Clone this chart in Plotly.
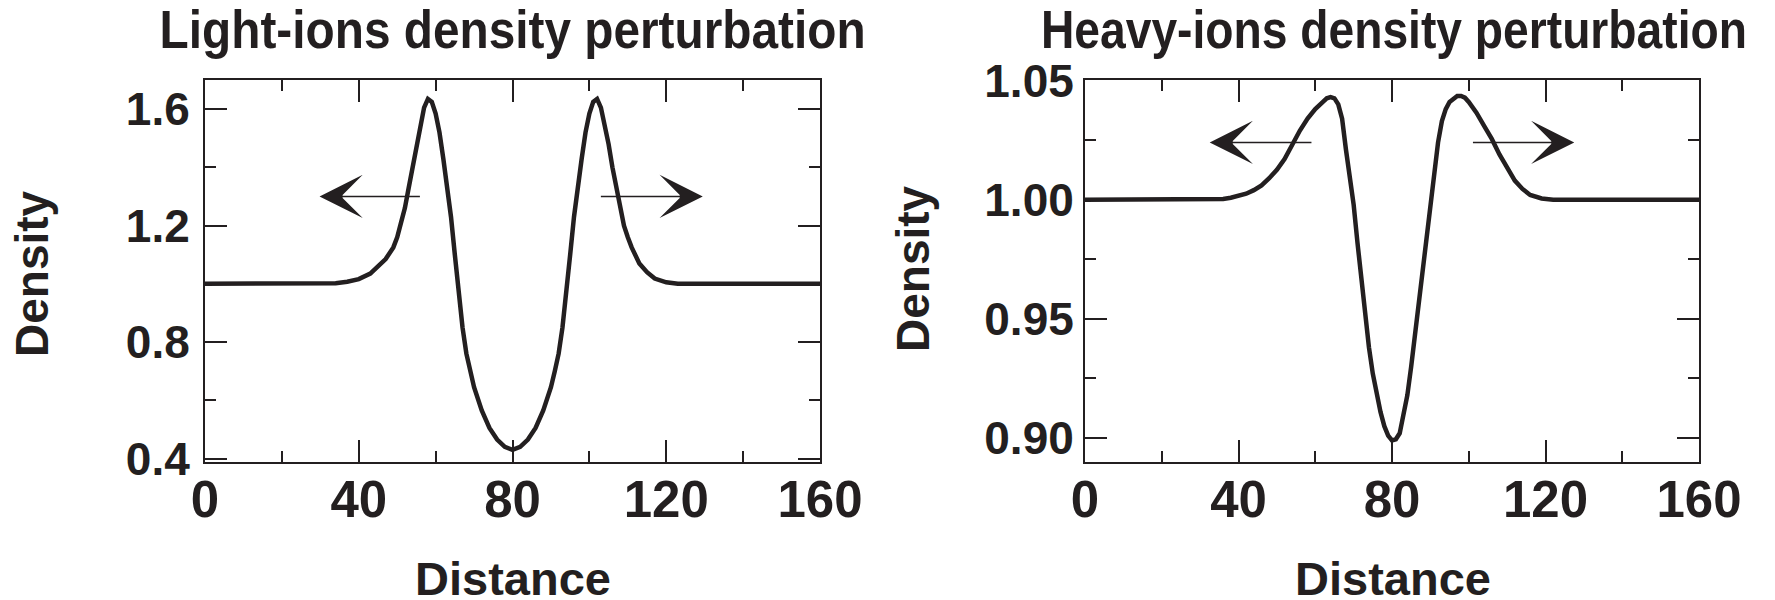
import plotly.graph_objects as go

# ---------------- data ----------------
light_x = [0, 10, 20, 28, 31, 34, 37, 40, 43, 45, 47, 49, 50, 51, 52, 53, 54, 55, 56, 57, 58, 59, 60,
           61, 62, 63, 64, 65, 66, 67, 68, 69, 70, 72, 74, 76, 78, 80, 82, 84, 86, 88, 90, 91, 92,
           93, 94, 95, 96, 97, 98, 99, 100, 101, 102, 103, 104, 105, 106, 107, 108, 109, 110, 111,
           113, 115, 117, 120, 123, 126, 130, 140, 150, 160]
light_y = [1.0, 1.0, 1.0, 1.0, 1.0, 1.002, 1.007, 1.016, 1.035, 1.058, 1.085, 1.125, 1.16, 1.21, 1.26,
           1.33, 1.40, 1.48, 1.55, 1.605, 1.635, 1.625, 1.585, 1.52, 1.43, 1.34, 1.23, 1.10, 0.96,
           0.85, 0.76, 0.70, 0.645, 0.565, 0.505, 0.465, 0.44, 0.43, 0.44, 0.465, 0.505, 0.565,
           0.645, 0.70, 0.76, 0.85, 0.96, 1.10, 1.23, 1.34, 1.43, 1.52, 1.585, 1.625, 1.635, 1.605,
           1.55, 1.48, 1.40, 1.33, 1.26, 1.20, 1.16, 1.125, 1.07, 1.04, 1.018, 1.005, 1.0, 1.0, 1.0,
           1.0, 1.0, 1.0]

heavy_x = [0, 10, 20, 30, 33, 36, 38, 40, 42, 44, 46, 48, 50, 52, 54, 56, 58, 60, 62, 63, 64, 65,
           66, 67, 68, 69, 70, 71, 72, 73, 74, 75, 76, 77, 78, 79, 80, 81, 82, 83, 84, 85, 86, 87,
           88, 89, 90, 91, 92, 93, 94, 95, 96, 97, 98, 99, 100, 101, 102, 104, 106, 108, 110, 112,
           114, 116, 119, 122, 130, 140, 150, 160]
heavy_y = [1.0, 1.0, 1.0, 1.0, 1.0, 1.0003, 1.0008, 1.0015, 1.0025, 1.004, 1.006, 1.009, 1.0125,
           1.017, 1.023, 1.029, 1.034, 1.038, 1.041, 1.0425, 1.043, 1.0425, 1.040, 1.034, 1.021,
           1.010, 0.998, 0.982, 0.966, 0.951, 0.938, 0.927, 0.918, 0.911, 0.905, 0.901, 0.899,
           0.8995, 0.902, 0.909, 0.918, 0.930, 0.944, 0.958, 0.971, 0.984, 0.998, 1.012, 1.024,
           1.033, 1.038, 1.041, 1.0425, 1.0435, 1.0435, 1.0428, 1.041, 1.039, 1.0365, 1.031, 1.0255,
           1.019, 1.013, 1.008, 1.0045, 1.002, 1.0005, 1.0, 1.0, 1.0, 1.0, 1.0]

titles = ["Light-ions density perturbation", "Heavy-ions density perturbation"]
x_title = "Distance"
y_title = "Density"

# arrows: (tail x, tip x, y) in data units
light_arrows = [(56.3, 29.8, 1.30), (102.6, 129.5, 1.30)]
heavy_arrows = [(59.4, 32.5, 1.024), (100.7, 127.5, 1.024)]

# ---------------- styling ----------------
W, H = 1775, 600
INK = "#231f20"
FONT = "Liberation Sans, Arial, Helvetica, sans-serif"


def px_x(p):
    return p / W


def px_y(p):
    return 1 - p / H


fig = go.Figure()
fig.add_trace(go.Scatter(x=light_x, y=light_y, mode="lines", line=dict(color=INK, width=4.5),
                         xaxis="x", yaxis="y", showlegend=False, hoverinfo="skip"))
fig.add_trace(go.Scatter(x=heavy_x, y=heavy_y, mode="lines", line=dict(color=INK, width=4.5),
                         xaxis="x2", yaxis="y2", showlegend=False, hoverinfo="skip"))

common_axis = dict(showline=True, linewidth=2, linecolor=INK, mirror="ticks", ticks="inside",
                   ticklen=22, tickwidth=2, tickcolor=INK, showgrid=False, zeroline=False,
                   automargin=False)

xdom1 = [px_x(205), px_x(820)]
xdom2 = [px_x(1085), px_x(1699)]
ydom = [px_y(461.7), px_y(80)]

xaxis_common = dict(common_axis, range=[0, 160], tick0=0, dtick=40,
                    minor=dict(dtick=20, ticklen=11, tickwidth=2, tickcolor=INK, ticks="inside"),
                    tickfont=dict(family=FONT, size=51, color=INK, weight="bold"), ticklabelstandoff=-8)

fig.update_layout(
    template="none",
    width=W, height=H, margin=dict(l=0, r=0, t=0, b=0, autoexpand=False),
    paper_bgcolor="white", plot_bgcolor="white",
    xaxis=dict(xaxis_common, domain=xdom1, anchor="y"),
    xaxis2=dict(xaxis_common, domain=xdom2, anchor="y2"),
    yaxis=dict(common_axis, domain=ydom, anchor="x", range=[0.389, 1.70], tick0=0.4, dtick=0.4,
               tickformat=".1f", minor=dict(dtick=0.2, ticklen=11, tickwidth=2, tickcolor=INK, ticks="inside"),
               tickfont=dict(family=FONT, size=46, color=INK, weight="bold"), ticklabelstandoff=4),
    yaxis2=dict(common_axis, domain=ydom, anchor="x2", range=[0.8901, 1.0502], tick0=0.9, dtick=0.05,
                tickformat=".2f", minor=dict(dtick=0.025, ticklen=11, tickwidth=2, tickcolor=INK, ticks="inside"),
                tickfont=dict(family=FONT, size=46, color=INK, weight="bold"), ticklabelstandoff=0),
)

anns = []
# titles (condensed afterwards with SVG textLength)
for t, cx in zip(titles, [512.5, 1394]):
    anns.append(dict(text=t, x=px_x(cx), y=px_y(29), xref="paper", yref="paper", xanchor="center", yanchor="middle",
                     showarrow=False, font=dict(family=FONT, size=53, color=INK, weight="bold")))
# x axis titles
for cx in [513, 1393]:
    anns.append(dict(text=x_title, x=px_x(cx), y=px_y(578), xref="paper", yref="paper", xanchor="center", yanchor="middle",
                     showarrow=False, font=dict(family=FONT, size=47, color=INK, weight="bold")))
# y axis titles
for cx, cy in [(32, 274), (913, 269)]:
    anns.append(dict(text=y_title, x=px_x(cx), y=px_y(cy), xref="paper", yref="paper", xanchor="center", yanchor="middle",
                     textangle=-90, showarrow=False, font=dict(family=FONT, size=46, color=INK, weight="bold")))
# arrows
for arrows, xr, yr in [(light_arrows, "x", "y"), (heavy_arrows, "x2", "y2")]:
    for tail, tip, yv in arrows:
        anns.append(dict(x=tip, y=yv, ax=tail, ay=yv, xref=xr, yref=yr, axref=xr, ayref=yr, text="",
                         showarrow=True, arrowhead=3, arrowsize=4.5, arrowwidth=1.6, arrowcolor=INK, standoff=0))
fig.update_layout(annotations=anns)

post = """
document.body.style.margin = '0';
document.body.style.padding = '0';
var gd = document.getElementById('{plot_id}');
gd.querySelectorAll('text.annotation-text').forEach(function(t){
  if (t.textContent.indexOf('perturbation') >= 0) {
    t.setAttribute('textLength', '706');
    t.setAttribute('lengthAdjust', 'spacingAndGlyphs');
  }
});
"""
fig.write_html("out.html", post_script=post, config={"displayModeBar": False})
